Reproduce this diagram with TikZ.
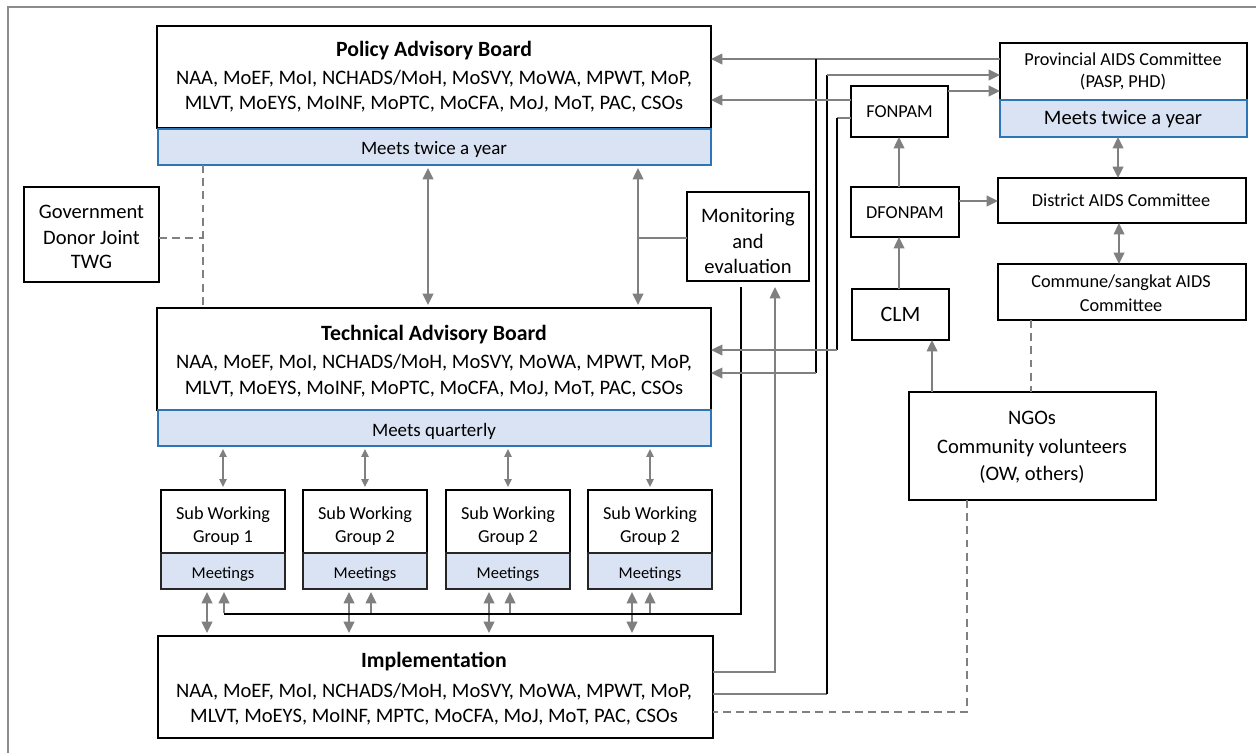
\documentclass[tikz,border=0pt]{standalone}
\usepackage{fontspec}
\setmainfont{Carlito}
\usetikzlibrary{arrows.meta}
\definecolor{agray}{RGB}{128,128,128}
\definecolor{framegray}{RGB}{140,140,140}
\definecolor{barfill}{HTML}{DAE3F3}
\definecolor{barline}{HTML}{2E75B6}
\newcommand\boxnode[6]{%
  \node[#1, minimum width={(#5-#3)*0.02cm}, minimum height={(#6-#4)*0.02cm}] (#2) at ({(#3+#5)/2},{(#4+#6)/2}) {};}
\begin{document}
\begin{tikzpicture}[x=0.02cm,y=-0.02cm,
  box/.style={draw=black, line width=0.7pt, fill=white, inner sep=0pt, outer sep=0pt},
  bar/.style={draw=barline, line width=1pt, fill=barfill, inner sep=0pt, outer sep=0pt},
  mbar/.style={draw=black!85, line width=0.7pt, fill=barfill, inner sep=0pt, outer sep=0pt},
  txt/.style={inner sep=0pt, font=\fontsize{11.7}{14}\selectfont},
  ttl/.style={inner sep=0pt, font=\fontsize{12.4}{15}\selectfont\bfseries},
  btxt/.style={inner sep=0pt, font=\fontsize{10.8}{13}\selectfont},
  stxt/.style={inner sep=0pt, font=\fontsize{10.4}{12.5}\selectfont},
  mtxt/.style={inner sep=0pt, font=\fontsize{9.4}{11}\selectfont},
  gline/.style={draw=agray, line width=1.25pt, line join=miter},
  garrow/.style={gline, -{Triangle[length=6.5pt,width=6pt]}},
  gdbl/.style={gline, {Triangle[length=6.5pt,width=6pt]}-{Triangle[length=6.5pt,width=6pt]}},
  tdbl/.style={draw=agray, line width=0.75pt, {Triangle[length=4.5pt,width=4.2pt]}-{Triangle[length=4.5pt,width=4.2pt]}},
  bline/.style={draw=black, line width=1.35pt, line join=miter},
  dline/.style={draw=agray, line width=1.15pt, dash pattern=on 4.5pt off 3pt}
]
\useasboundingbox (0,0) rectangle (1256,752);
% outer frame
\draw[framegray, line width=1pt] (8,780) -- (8,7) -- (1280,7);

% ---------- Policy Advisory Board ----------
\boxnode{box}{pab}{157}{26}{711}{128}
\boxnode{bar}{pabbar}{158}{129}{711}{165}
\node[ttl] (pabT) at (434,51) {Policy Advisory Board};
\node[txt] (pabL1) at (434,79) {NAA, MoEF, MoI, NCHADS/MoH, MoSVY, MoWA, MPWT, MoP,};
\node[txt] (pabL2) at (434,104) {MLVT, MoEYS, MoINF, MoPTC, MoCFA, MoJ, MoT, PAC, CSOs};
\node[btxt] (pabM) at (434,149) {Meets twice a year};

% ---------- Government Donor Joint TWG ----------
\boxnode{box}{gov}{24}{187}{159}{282}
\node[txt] (govA) at (91.5,212) {Government};
\node[txt] (govB) at (91.5,237) {Donor Joint};
\node[txt] (govC) at (91.5,262) {TWG};

% ---------- Technical Advisory Board ----------
\boxnode{box}{tab}{157}{308}{711}{410}
\boxnode{bar}{tabbar}{158}{410}{711}{446}
\node[ttl] (tabT) at (434,335) {Technical Advisory Board};
\node[txt] (tabL1) at (434,363) {NAA, MoEF, MoI, NCHADS/MoH, MoSVY, MoWA, MPWT, MoP,};
\node[txt] (tabL2) at (434,389) {MLVT, MoEYS, MoINF, MoPTC, MoCFA, MoJ, MoT, PAC, CSOs};
\node[btxt] (tabM) at (434,431) {Meets quarterly};

% ---------- Monitoring and evaluation ----------
\boxnode{box}{me}{687}{192}{809}{281}
\node[txt] (meA) at (748,217) {Monitoring};
\node[txt] (meB) at (748,241) {and};
\node[txt] (meC) at (748,266) {evaluation};

% ---------- Sub working groups ----------
\boxnode{box}{swgA}{161}{490}{285}{589}
\boxnode{mbar}{swgAm}{161}{553}{285}{589}
\node[stxt] (swgAt) at (223,515) {Sub Working};
\node[stxt] (swgAu) at (223,538) {Group 1};
\node[mtxt] (swgAx) at (223,574) {Meetings};

\boxnode{box}{swgB}{303}{490}{427}{589}
\boxnode{mbar}{swgBm}{303}{553}{427}{589}
\node[stxt] (swgBt) at (365,515) {Sub Working};
\node[stxt] (swgBu) at (365,538) {Group 2};
\node[mtxt] (swgBx) at (365,574) {Meetings};

\boxnode{box}{swgC}{446}{490}{570}{589}
\boxnode{mbar}{swgCm}{446}{553}{570}{589}
\node[stxt] (swgCt) at (508,515) {Sub Working};
\node[stxt] (swgCu) at (508,538) {Group 2};
\node[mtxt] (swgCx) at (508,574) {Meetings};

\boxnode{box}{swgD}{588}{490}{712}{589}
\boxnode{mbar}{swgDm}{588}{553}{712}{589}
\node[stxt] (swgDt) at (650,515) {Sub Working};
\node[stxt] (swgDu) at (650,538) {Group 2};
\node[mtxt] (swgDx) at (650,574) {Meetings};

% ---------- Implementation ----------
\boxnode{box}{impl}{158}{636}{713}{738}
\node[ttl] (implT) at (434,662) {Implementation};
\node[txt] (implL1) at (434,692) {NAA, MoEF, MoI, NCHADS/MoH, MoSVY, MoWA, MPWT, MoP,};
\node[txt] (implL2) at (434,717) {MLVT, MoEYS, MoINF, MPTC, MoCFA, MoJ, MoT, PAC, CSOs};

% ---------- Right side ----------
\boxnode{box}{prov}{1000}{43}{1247}{100}
\boxnode{bar}{provbar}{1000}{100}{1247}{137}
\node[stxt] (provA) at (1123,59) {Provincial AIDS Committee};
\node[stxt] (provB) at (1123,82) {(PASP, PHD)};
\node[txt] (provM) at (1123,119) {Meets twice a year};

\boxnode{box}{fon}{851}{86}{948}{137}
\node[stxt] (fonT) at (899.5,112) {FONPAM};
\boxnode{box}{dfon}{851}{187}{959}{237}
\node[stxt] (dfonT) at (905,213) {DFONPAM};
\boxnode{box}{clm}{852}{289}{949}{340}
\node[inner sep=0pt, font=\fontsize{12.5}{15}\selectfont] (clmT) at (900.5,314) {CLM};

\boxnode{box}{dist}{998}{178}{1246}{223}
\node[stxt] (distT) at (1121,200) {District AIDS Committee};
\boxnode{box}{comm}{998}{264}{1246}{320}
\node[stxt] (commA) at (1121,283) {Commune/sangkat AIDS};
\node[stxt] (commB) at (1121,305) {Committee};

\boxnode{box}{ngo}{909}{392}{1156}{500}
\node[txt] (ngoA) at (1032,418) {NGOs};
\node[txt] (ngoB) at (1032,448) {Community volunteers};
\node[txt] (ngoC) at (1032,474) {(OW, others)};

% ---------- Connectors ----------
% Gov TWG dashed link
\draw[dline] (pabbar.south -| 203,0) -- (tab.north -| 203,0);
\draw[dline] (gov.east |- 0,238) -- (203,238);

% PAB <-> TAB
\draw[gdbl] (428,168) -- (428,305);
\draw[gdbl] (638,168) -- (638,305);
\draw[gline] (638,238) -- (me.west |- 0,238);

% TAB <-> SWGs
\foreach \x in {223,365,508,650}
  \draw[tdbl] (\x,449) -- (\x,487);

% SWGs <-> Implementation
\foreach \x in {207,349,489,632}
  \draw[gdbl] (\x,592) -- (\x,633);

% M&E feedback to SWGs
\coordinate (meOut) at (741,287);
\coordinate (meCorner) at (741,614);
\coordinate (meEnd) at (224,614);
\draw[bline] (meOut) -- (meCorner) -- (meEnd);
\foreach \x in {224,371,510,650}
  \draw[garrow] (\x,613) -- (\x,592);

% Implementation -> M&E
\coordinate (imeUp) at (775,287);
\draw[garrow] (impl.east |- 0,672) -| (imeUp);

% Implementation -> Provincial
\draw[gline] (impl.east |- 0,694) -- (827,694);
\draw[bline] (827,694) -- (827,75);
\draw[garrow] (827,75) -- (prov.west |- 0,75);

% Provincial -> PAB and TAB
\draw[garrow] (prov.west |- 0,59) -- (pab.east |- 0,59);
\draw[bline] (816,59) -- (816,373);
\draw[garrow] (816,373) -- (tab.east |- 0,373);

% FONPAM -> PAB and TAB, Provincial
\draw[garrow] (fon.west |- 0,100) -- (pab.east |- 0,100);
\draw[gline] (fon.west |- 0,118) -- (837,118);
\draw[bline] (837,118) -- (837,350);
\draw[garrow] (837,350) -- (tab.east |- 0,350);
\draw[garrow] (fon.east |- 0,91) -- (prov.west |- 0,91);

% DFONPAM, CLM, NGOs
\draw[garrow] (dfon.north -| 899,0) -- (fon.south -| 899,0);
\draw[garrow] (dfon.east |- 0,201) -- (dist.west |- 0,201);
\draw[garrow] (clm.north -| 899,0) -- (dfon.south -| 899,0);
\draw[garrow] (ngo.north -| 932,0) -- (clm.south -| 932,0);

% Provincial <-> District <-> Commune
\draw[gdbl] (provbar.south -| 1118,0) -- (dist.north -| 1118,0);
\draw[gdbl] (dist.south -| 1119,0) -- (comm.north -| 1119,0);

% Commune - NGOs, NGOs - Implementation (dashed)
\draw[dline] (comm.south -| 1031,0) -- (ngo.north -| 1031,0);
\draw[dline] (ngo.south -| 967,0) |- (impl.east |- 0,712);
\end{tikzpicture}
\end{document}
